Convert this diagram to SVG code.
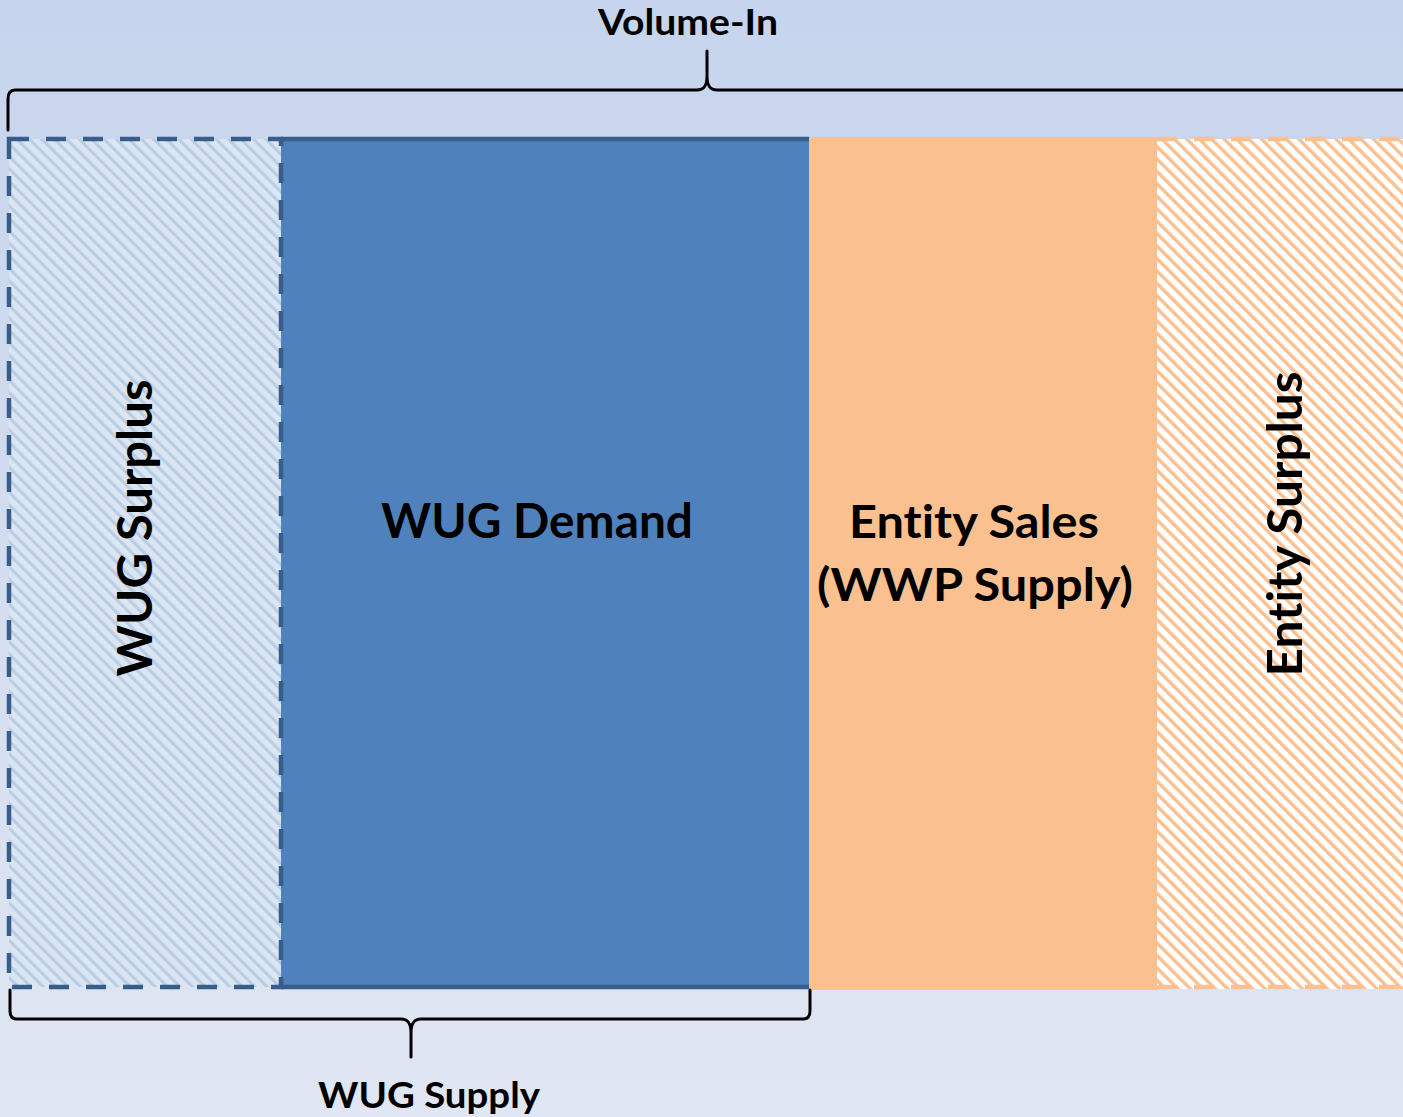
<svg xmlns="http://www.w3.org/2000/svg" width="1403" height="1117" viewBox="0 0 1403 1117">
  <style>
    .lbl { font-family: Lato, "Open Sans", "Liberation Sans", sans-serif; font-weight: bold; fill: #000; text-anchor: middle; font-variant-ligatures: none; font-feature-settings: "liga" 0; }
    .brace { fill: none; stroke: #000; stroke-width: 3; stroke-linejoin: round; stroke-linecap: round; }
  </style>
  <defs>
    <linearGradient id="bg" x1="0" y1="0" x2="0" y2="1">
      <stop offset="0" stop-color="#c6d4ed"/>
      <stop offset="1" stop-color="#e0e6f3"/>
    </linearGradient>
    <pattern id="hatchBlue" patternUnits="userSpaceOnUse" width="8.8" height="8.8" patternTransform="rotate(-45)">
      <rect width="8.8" height="8.8" fill="#dce6f2"/>
      <rect width="3.2" height="8.8" fill="#b9cde5"/>
    </pattern>
    <pattern id="hatchOrange" patternUnits="userSpaceOnUse" width="8.8" height="8.8" patternTransform="rotate(-45)">
      <rect width="8.8" height="8.8" fill="#ffffff"/>
      <rect width="3.4" height="8.8" fill="#fac090"/>
    </pattern>
  </defs>

  <rect x="0" y="0" width="1403" height="1117" fill="url(#bg)"/>

  <g id="entity-sales">
    <rect x="809" y="137" width="348" height="853" fill="#fac090"/>
    <text class="lbl" x="974" y="538" font-size="46" textLength="250" lengthAdjust="spacingAndGlyphs">Entity Sales</text>
    <text class="lbl" x="975" y="601" font-size="46" textLength="316" lengthAdjust="spacingAndGlyphs">(WWP Supply)</text>
  </g>

  <g id="entity-surplus">
    <rect x="1157" y="139" width="250" height="850" fill="url(#hatchOrange)"/>
    <line x1="1157" y1="139" x2="1403" y2="139" stroke="#fac090" stroke-width="4.5" stroke-dasharray="20 17"/>
    <line x1="1157" y1="987" x2="1403" y2="987" stroke="#fac090" stroke-width="4.5" stroke-dasharray="20 17"/>
    <text class="lbl" transform="translate(1302,524) rotate(-90)" font-size="47" textLength="305" lengthAdjust="spacingAndGlyphs">Entity Surplus</text>
  </g>

  <g id="wug-demand">
    <rect x="281" y="139" width="528" height="848" fill="#4f81bd"/>
    <line x1="281" y1="139" x2="809" y2="139" stroke="#385d8a" stroke-width="4.5"/>
    <line x1="281" y1="987" x2="809" y2="987" stroke="#385d8a" stroke-width="4.5"/>
    <text class="lbl" x="537" y="538" font-size="47" textLength="312" lengthAdjust="spacingAndGlyphs">WUG Demand</text>
  </g>

  <g id="wug-surplus">
    <rect x="9" y="139" width="272" height="848" fill="url(#hatchBlue)" stroke="#385d8a" stroke-width="4.5" stroke-dasharray="20 17"/>
    <text class="lbl" transform="translate(152,528) rotate(-90)" font-size="47" textLength="297" lengthAdjust="spacingAndGlyphs">WUG Surplus</text>
  </g>

  <g id="connectors">
    <path class="brace" d="M8,130 L8,99 Q8,90 15,90 L697,90 C704,90 707,86 707,76 L707,51 L707,76 C707,86 710,90 717,90 L1405,90"/>
    <path class="brace" d="M10,990 L10,1011 Q10,1019 17,1019 L401,1019 C408,1019 411,1023 411,1033 L411,1057 L411,1033 C411,1023 414,1019 421,1019 L803,1019 Q810,1019 810,1011 L810,990"/>
  </g>

  <g id="labels">
    <text class="lbl" x="688" y="35" font-size="36" textLength="180" lengthAdjust="spacingAndGlyphs">Volume-In</text>
    <text class="lbl" x="429" y="1108" font-size="36" textLength="222" lengthAdjust="spacingAndGlyphs">WUG Supply</text>
  </g>
</svg>
